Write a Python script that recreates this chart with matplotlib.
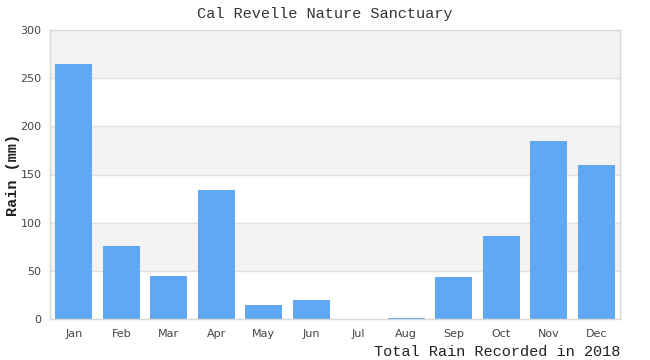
import matplotlib
matplotlib.use("Agg")
import matplotlib.pyplot as plt

months = ["Jan", "Feb", "Mar", "Apr", "May", "Jun", "Jul", "Aug", "Sep", "Oct", "Nov", "Dec"]
rain = [265, 76, 45, 134, 15, 20, 0, 1.5, 44, 86, 185, 160]
yticks = [0, 50, 100, 150, 200, 250, 300]

fig = plt.figure(figsize=(6.5, 3.6), dpi=100)
ax = fig.add_axes([50/650, 41/360, 570/650, 289/360])

x = list(range(len(months)))
ax.set_xlim(-0.5, len(months) - 0.5)
ax.set_ylim(0, 300)

# alternating bands
for i in range(len(yticks) - 1):
    if i % 2 == 1:
        ax.axhspan(yticks[i], yticks[i + 1], color="#f3f3f3", zorder=0, lw=0)
for t in yticks[1:-1]:
    ax.axhline(t, color="#e0e0e0", lw=1, zorder=1)

ax.bar(x, rain, width=0.78, color="#60a8f4", zorder=2)

ax.set_xticks(x)
ax.set_xticklabels(months)
ax.set_yticks(yticks)
ax.tick_params(axis="both", length=0, labelsize=8, colors="#444444", labelfontfamily="DejaVu Sans")
ax.tick_params(axis="x", pad=7)
ax.tick_params(axis="y", pad=6)
for s in ax.spines.values():
    s.set_color("#d8d8d8")
    s.set_linewidth(1)

fig.text(325/650, 1 - 14/360, "Cal Revelle Nature Sanctuary", ha="center", va="center",
         family="Liberation Mono", fontsize=11, color="#333333")
fig.text(13/650, 1 - 175/360, "Rain (mm)", ha="center", va="center", rotation=90,
         family="Liberation Mono", fontsize=11, fontweight="bold", color="#222222")
fig.text(620/650, 1/360, "Total Rain Recorded in 2018", ha="right", va="bottom",
         family="Liberation Mono", fontsize=11, color="#222222")

fig.savefig("out.png", dpi=100)
